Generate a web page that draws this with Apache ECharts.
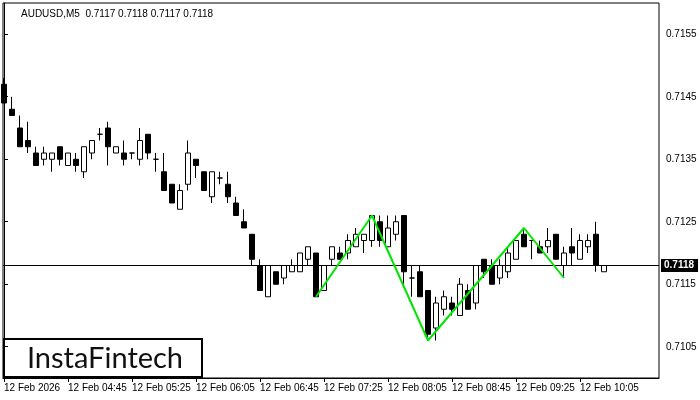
<!DOCTYPE html>
<html>
<head>
<meta charset="utf-8">
<script src="https://cdn.jsdelivr.net/npm/echarts@6/dist/echarts.min.js"></script>
<style>
  html, body { margin: 0; padding: 0; background: #fff; }
  #chart { width: 700px; height: 400px; }
</style>
</head>
<body>
<div id="chart"></div>
<script>
// AUDUSD M5, 76 bars starting 12 Feb 04:05
const open = [
  0.7147, 0.7143, 0.7140, 0.7138, 0.7136, 0.7135, 0.7135, 0.7137, 0.7134, 0.7135,
  0.7133, 0.7136, 0.7139, 0.7140, 0.7136, 0.7136, 0.7136, 0.7135, 0.7139, 0.7135,
  0.7133, 0.7131, 0.7127, 0.7131, 0.7135, 0.7133, 0.7129, 0.7132, 0.7131, 0.7128,
  0.7125, 0.7123, 0.7118, 0.7113, 0.7117, 0.7116, 0.7117, 0.7117, 0.7119, 0.7120,
  0.7114, 0.7119, 0.7120, 0.7120, 0.7121, 0.7122, 0.7122, 0.7125, 0.7121, 0.7123,
  0.7126, 0.7116, 0.7117, 0.7114, 0.7108, 0.7111, 0.7112, 0.7110, 0.7114, 0.7112,
  0.7119, 0.7118, 0.7116, 0.7117, 0.7119, 0.7123, 0.7122, 0.7121, 0.7121, 0.7123,
  0.7118, 0.7121, 0.7119, 0.7121, 0.7123, 0.7117
];
const high = [
  0.7148, 0.7145, 0.7142, 0.7141, 0.7137, 0.7137, 0.7136, 0.7137, 0.7136, 0.7136,
  0.7137, 0.7138, 0.7140, 0.7141, 0.7137, 0.7138, 0.7136, 0.7140, 0.7139, 0.7136,
  0.7136, 0.7131, 0.7131, 0.7138, 0.7135, 0.7133, 0.7133, 0.7133, 0.7133, 0.7129,
  0.7127, 0.7123, 0.7119, 0.7118, 0.7117, 0.7118, 0.7119, 0.7120, 0.7121, 0.7120,
  0.7118, 0.7121, 0.7121, 0.7123, 0.7124, 0.7123, 0.7126, 0.7126, 0.7126, 0.7126,
  0.7126, 0.7118, 0.7118, 0.7114, 0.7113, 0.7114, 0.7113, 0.7116, 0.7115, 0.7118,
  0.7119, 0.7119, 0.7119, 0.7121, 0.7122, 0.7124, 0.7122, 0.7122, 0.7124, 0.7123,
  0.7121, 0.7124, 0.7123, 0.7123, 0.7125, 0.7118
];
const low = [
  0.7144, 0.7142, 0.7137, 0.7136, 0.7134, 0.7134, 0.7133, 0.7134, 0.7134, 0.7133,
  0.7132, 0.7135, 0.7138, 0.7134, 0.7136, 0.7134, 0.7135, 0.7134, 0.7135, 0.7133,
  0.7130, 0.7128, 0.7127, 0.7130, 0.7132, 0.7130, 0.7128, 0.7131, 0.7128, 0.7126,
  0.7124, 0.7118, 0.7114, 0.7113, 0.7115, 0.7115, 0.7117, 0.7117, 0.7118, 0.7113,
  0.7114, 0.7118, 0.7119, 0.7119, 0.7121, 0.7120, 0.7121, 0.7121, 0.7121, 0.7122,
  0.7115, 0.7113, 0.7113, 0.7106, 0.7106, 0.7110, 0.7110, 0.7110, 0.7111, 0.7111,
  0.7116, 0.7115, 0.7115, 0.7116, 0.7119, 0.7121, 0.7119, 0.7120, 0.7120, 0.7119,
  0.7116, 0.7118, 0.7119, 0.7120, 0.7117, 0.7117
];
const close = [
  0.7144, 0.7142, 0.7137, 0.7137, 0.7134, 0.7136, 0.7136, 0.7135, 0.7136, 0.7134,
  0.7137, 0.7138, 0.7139, 0.7137, 0.7137, 0.7135, 0.7136, 0.7138, 0.7136, 0.7135,
  0.7130, 0.7128, 0.7130, 0.7136, 0.7134, 0.7130, 0.7133, 0.7132, 0.7129, 0.7126,
  0.7124, 0.7119, 0.7114, 0.7118, 0.7115, 0.7118, 0.7118, 0.7120, 0.7121, 0.7113,
  0.7118, 0.7121, 0.7119, 0.7122, 0.7123, 0.7123, 0.7126, 0.7122, 0.7124, 0.7125,
  0.7117, 0.7116, 0.7113, 0.7107, 0.7112, 0.7113, 0.7111, 0.7115, 0.7111, 0.7118,
  0.7117, 0.7115, 0.7118, 0.7120, 0.7122, 0.7121, 0.7122, 0.7120, 0.7122, 0.7119,
  0.7120, 0.7120, 0.7122, 0.7122, 0.7118, 0.7118
];

// pattern outline (bar index, price)
const patternIdx = [39, 46, 53, 65, 70];
const patternPrice = [0.7113, 0.7126, 0.7106, 0.7124, 0.7116];

const lastPrice = 0.7118;

const timeTickIdx = [0, 8, 16, 24, 32, 40, 48, 56, 64, 72];
const timeLabels = [
  '12 Feb 2026', '12 Feb 04:45', '12 Feb 05:25', '12 Feb 06:05', '12 Feb 06:45',
  '12 Feb 07:25', '12 Feb 08:05', '12 Feb 08:45', '12 Feb 09:25', '12 Feb 10:05'
];
const priceTicks = [0.7105, 0.7115, 0.7125, 0.7135, 0.7145, 0.7155];

const candles = open.map((o, i) => [i, o, close[i], low[i], high[i]]);
const pattern = patternIdx.map((x, i) => [x, patternPrice[i]]);

// visible bar range (chart is scrolled so bar 0 sits at the left edge)
const xMin = -0.125;
const xMax = 81.875;

const chart = echarts.init(document.getElementById('chart'));
const font = 'Liberation Sans, Arial, sans-serif';

chart.setOption({
  animation: false,
  backgroundColor: '#fff',
  title: {
    text: 'AUDUSD,M5  0.7117 0.7118 0.7117 0.7118',
    left: 16,
    top: 4,
    textStyle: { fontSize: 10, fontWeight: 'normal', color: '#000', fontFamily: font }
  },
  grid: {
    left: 3, right: 41, top: 3, bottom: 22,
    show: true,
    borderColor: '#000',
    borderWidth: 1,
    backgroundColor: '#fff'
  },
  xAxis: {
    type: 'value',
    min: xMin,
    max: xMax,
    splitLine: { show: false },
    axisLine: { show: true, lineStyle: { color: '#000', width: 1 } },
    axisTick: {
      show: true,
      customValues: timeTickIdx,
      length: 4,
      lineStyle: { color: '#000' }
    },
    axisLabel: {
      customValues: timeTickIdx,
      formatter: (v) => timeLabels[timeTickIdx.indexOf(Math.round(v))] || '',
      align: 'left',
      margin: 5,
      fontSize: 10,
      color: '#000',
      fontFamily: font
    }
  },
  yAxis: {
    type: 'value',
    position: 'right',
    min: 0.7100,
    max: 0.7160,
    interval: 0.0005,
    splitLine: { show: false },
    axisLine: { show: true, lineStyle: { color: '#000', width: 1 } },
    axisTick: {
      show: true,
      inside: false,
      length: 4,
      customValues: priceTicks,
      lineStyle: { color: '#000' }
    },
    axisLabel: {
      customValues: priceTicks,
      formatter: (v) => v.toFixed(4),
      margin: 7,
      fontSize: 10,
      color: '#000',
      fontFamily: font
    }
  },
  series: [
    {
      type: 'candlestick',
      data: candles,
      encode: { x: 0, y: [1, 2, 3, 4] },
      barWidth: 5,
      itemStyle: {
        color: '#fff',
        color0: '#000',
        borderColor: '#000',
        borderColor0: '#000',
        borderWidth: 1
      }
    },
    {
      type: 'line',
      data: pattern,
      symbol: 'none',
      lineStyle: { color: '#00e600', width: 2 },
      z: 5,
      // current price line and tag on the price scale
      markLine: {
        silent: true,
        symbol: 'none',
        lineStyle: { color: '#000', width: 1, type: 'solid' },
        label: {
          show: true,
          position: 'end',
          distance: 2,
          formatter: lastPrice.toFixed(4),
          backgroundColor: '#000',
          color: '#fff',
          padding: [2, 4, 1, 3],
          fontSize: 10,
          fontWeight: 'bold',
          fontFamily: font
        },
        data: [[{ coord: [xMin, lastPrice] }, { coord: [xMax, lastPrice] }]]
      }
    }
  ],
  graphic: [
    {
      type: 'group',
      left: 3,
      bottom: 22,
      children: [
        {
          type: 'rect',
          shape: { x: 0, y: 0, width: 198, height: 38 },
          style: { fill: '#fff', stroke: '#000', lineWidth: 2 }
        },
        {
          type: 'text',
          style: {
            x: 101, y: 20,
            text: 'InstaFintech',
            align: 'center',
            verticalAlign: 'middle',
            fontSize: 29,
            fontFamily: 'Lato, Roboto, sans-serif',
            fill: '#111'
          }
        }
      ]
    }
  ]
});
</script>
</body>
</html>
